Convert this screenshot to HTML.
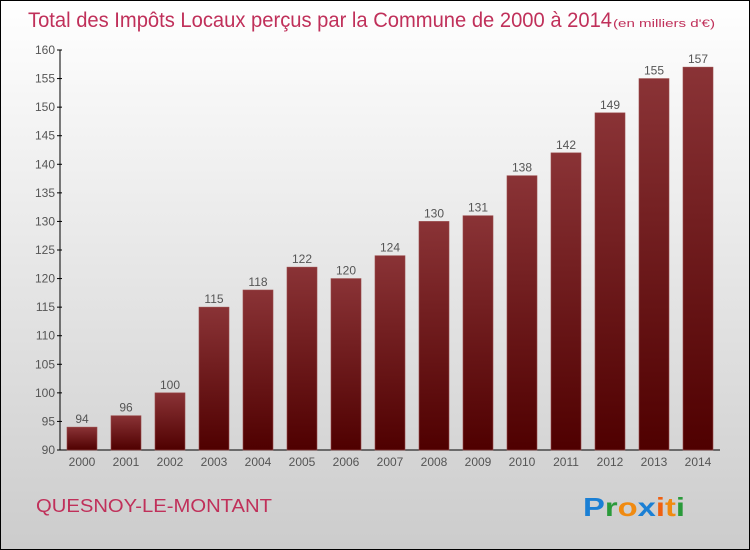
<!DOCTYPE html>
<html><head><meta charset="utf-8"><style>
body{margin:0;width:750px;height:550px;overflow:hidden;font-family:"Liberation Sans",sans-serif}
#wrap{position:absolute;left:0;top:0;width:748px;height:548px;border:1px solid #000;background:linear-gradient(#ffffff,#f0f0f0 30%,#cccccc)}
</style></head><body>
<div id="wrap">
<svg width="750" height="550" style="position:absolute;left:-1px;top:-1px">
<defs>
<linearGradient id="bg" x1="0" y1="0" x2="0" y2="1"><stop offset="0" stop-color="#8a3336"/><stop offset="1" stop-color="#4f0000"/></linearGradient>
</defs>
<text x="28" y="27" font-size="21" fill="#c0305a" textLength="584" lengthAdjust="spacingAndGlyphs">Total des Impôts Locaux perçus par la Commune de 2000 à 2014</text>
<text x="613" y="27" font-size="11" fill="#c0305a" textLength="102" lengthAdjust="spacingAndGlyphs">(en milliers d'€)</text>
<g id="axes"></g>
<g id="bars"></g>
<text x="36" y="512" font-size="18" fill="#c0305a" textLength="236" lengthAdjust="spacingAndGlyphs">QUESNOY-LE-MONTANT</text>
<text x="583" y="516" font-size="26" font-weight="bold" textLength="102" lengthAdjust="spacingAndGlyphs"><tspan fill="#1a7fd4">P</tspan><tspan fill="#2a9a3a">r</tspan><tspan fill="#f08a10">o</tspan><tspan fill="#1a7fd4">x</tspan><tspan fill="#f06010">i</tspan><tspan fill="#f08a10">t</tspan><tspan fill="#2a9a3a">i</tspan></text>
</svg>
</div>
<script>
const years=["2000","2001","2002","2003","2004","2005","2006","2007","2008","2009","2010","2011","2012","2013","2014"];
const values=[94,96,100,115,118,122,120,124,130,131,138,142,149,155,157];
const yTicks=[90,95,100,105,110,115,120,125,130,135,140,145,150,155,160];
const NS="http://www.w3.org/2000/svg";
const y=v=>450-(v-90)*400/70;
const x=i=>82+i*44;
const ax=document.getElementById('axes'),bs=document.getElementById('bars');
function mk(t,a,p){const e=document.createElementNS(NS,t);for(const k in a)e.setAttribute(k,a[k]);p.appendChild(e);return e;}
const yl=mk('line',{x1:60,y1:50,x2:60,y2:450,stroke:'#000'},ax);


const xl=mk('line',{x1:60,y1:450,x2:720,y2:450,stroke:'#000'},ax);


yTicks.forEach(v=>{
 mk('line',{x1:57,y1:y(v),x2:62,y2:y(v),stroke:'#000'},ax);
 const t=mk('text',{x:55,y:y(v)+4,'font-size':12,fill:'#555','text-anchor':'end'},ax);
 t.textContent=v;
 
 
});
years.forEach((yr,i)=>{
 const r=mk('rect',{x:x(i)-15,y:y(values[i]),width:30,height:450-y(values[i]),fill:'url(#bg)',stroke:'#9a4a4a','stroke-width':0.6},bs);
 
 
 const l=mk('text',{x:x(i),y:y(values[i])-4,'font-size':12,fill:'#555','text-anchor':'middle'},bs);
 l.textContent=values[i];
 
 
 const t=mk('text',{x:x(i),y:466,'font-size':12,fill:'#555','text-anchor':'middle'},ax);
 t.textContent=yr;
 
 
});
</script>
</body></html>
